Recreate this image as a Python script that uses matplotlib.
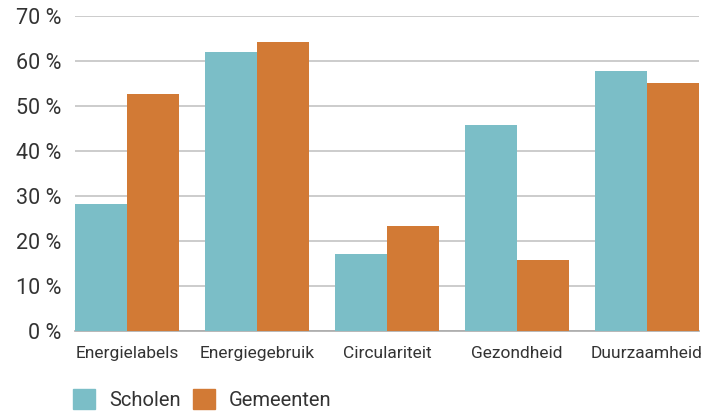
import numpy as np
import matplotlib.pyplot as plt
from matplotlib.patches import Patch

categories = ['Energielabels', 'Energiegebruik', 'Circulariteit', 'Gezondheid', 'Duurzaamheid']
scholen = [28.2, 62.0, 17.1, 45.8, 57.8]
gemeenten = [52.7, 64.2, 23.3, 15.8, 55.1]
yticks = [0, 10, 20, 30, 40, 50, 60, 70]

plt.rcParams['font.family'] = ['Roboto', 'DejaVu Sans']

c_sch = '#7bbec7'
c_gem = '#d27a35'
txt = '#333333'

fig = plt.figure(figsize=(7.28, 4.12), dpi=100)
ax = fig.add_axes([0.103, 0.1966, 0.857, 0.7646])

x = np.arange(len(categories))
w = 0.4
ax.bar(x - w / 2, scholen, w, color=c_sch, zorder=3)
ax.bar(x + w / 2, gemeenten, w, color=c_gem, zorder=3)

ax.set_xlim(-0.4, len(categories) - 0.6)
ax.set_ylim(0, 70)
ax.set_yticks(yticks)
ax.set_yticklabels(['%d %%' % v for v in yticks], fontsize=15.5, color=txt)
ax.set_xticks(x)
ax.set_xticklabels(categories, fontsize=12.5, color=txt)
ax.tick_params(axis='both', length=0)
ax.tick_params(axis='y', pad=10)
ax.tick_params(axis='x', pad=11)

ax.grid(axis='y', color='#c4c4c4', linewidth=1.2, zorder=0)
for s in ['top', 'right', 'left']:
    ax.spines[s].set_visible(False)
ax.spines['bottom'].set_color('#aaaaaa')
ax.spines['bottom'].set_linewidth(1.2)

handles = [Patch(color=c_sch), Patch(color=c_gem)]
fig.legend(handles, ['Scholen', 'Gemeenten'], loc='lower left',
           bbox_to_anchor=(71 / 728, 0.0), borderaxespad=0, borderpad=0.1,
           ncol=2, frameon=False, fontsize=14.5, handlelength=1.1,
           handleheight=1.1, handletextpad=0.7, columnspacing=0.6,
           labelcolor=txt)

fig.savefig('out.png', dpi=100)
